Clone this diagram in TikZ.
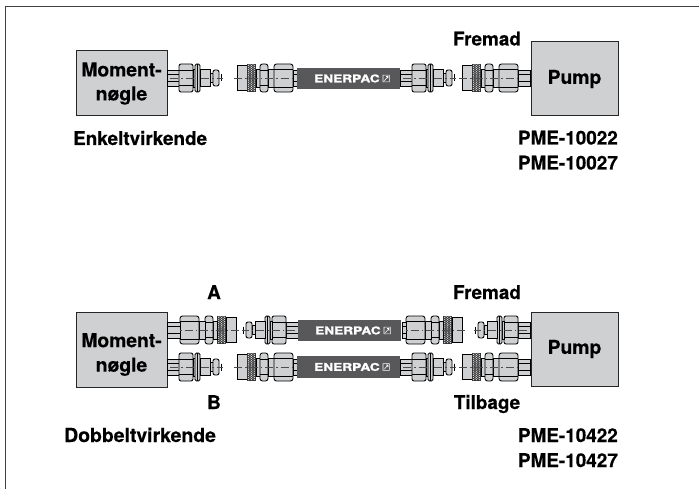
\documentclass[tikz,border=0pt]{standalone}
\usepackage{fontspec}
\setmainfont{TeX Gyre Heros}
\newfontfamily\lblfont[BoldFont={TeX Gyre Heros Bold},BoldFeatures={FakeBold=0.35}]{TeX Gyre Heros}
\definecolor{fitgray}{HTML}{CFD0D2}
\definecolor{boxgray}{HTML}{CFD0D2}
\definecolor{hosegray}{HTML}{58585A}
\newcommand{\fitthreads}[2]{%
  \path[part] (#1,-8) rectangle (#2,8);
  \draw[thin part] (#1,-3.6) -- (#2,-3.6) (#1,3.6) -- (#2,3.6);
}
\tikzset{
  part/.style={draw=black,line width=0.85pt,fill=fitgray},
  thin part/.style={draw=black,line width=0.55pt},
  axis/.style={draw=black!70,line width=0.45pt,dash pattern=on 8pt off 3pt on 1.5pt off 3pt},
  lbl/.style={font=\lblfont\fontsize{18.9}{22}\selectfont\bfseries,inner sep=0pt,anchor=base,text=black},
  lblr/.style={lbl,anchor=base east},
  lbll/.style={lbl,anchor=base west},
  unit/.style={draw=black!85,line width=1pt,fill=boxgray,inner sep=0pt,align=center,
     font=\lblfont\fontsize{19.3}{24.5}\selectfont\bfseries},
  frameline/.style={draw=black!75,line width=1.2pt},
  pics/malefit/.style={code={
    \fitthreads{0}{12}
    \path[part,rounded corners=2pt] (12,-14) rectangle (26,14);
    \draw[thin part] (12,-7.5) -- (26,-7.5) (12,7.5) -- (26,7.5);
    \path[part] (26,-9) rectangle (28,9);
    \path[part,rounded corners=1.5pt] (28,-14) rectangle (33,14);
    \path[part] (33,-8.5) rectangle (43,8.5);
    \path[part] (43,-4.5) rectangle (46,4.5);
    \path[part,rounded corners=2pt] (46,-8) rectangle (52,8);
    \draw[thin part] (54.5,-3.5) -- (54.5,3.5);
    \path[axis] (3,0) -- (56,0);
    \draw[thin part] (30.5,-14) -- (30.5,14);
  }},
  pics/femalefit/.style={code={
    \path[part] (0,-12.5) rectangle (10,12.5);
    \fill[black!80] (10,-14) rectangle (19,14);
    \foreach \ix in {0,1,2}{\foreach \iy in {-6,...,6}{
      \fill[white!85!black] (11.5+2.9*\ix,2.1*\iy) circle (0.7pt);}}
    \foreach \iy in {-6.5,...,5.5}{
      \fill[white!85!black] (13,2.1*\iy) circle (0.55pt);
      \fill[white!85!black] (15.9,2.1*\iy) circle (0.55pt);}
    \path[part] (19,-9) rectangle (23,9);
    \path[part,rounded corners=2.5pt] (23,-14) rectangle (31,14);
    \draw[thin part] (23,-7.5) -- (31,-7.5) (23,7.5) -- (31,7.5);
    \path[part] (31,-9) rectangle (37,9);
    \path[part,rounded corners=2.5pt] (37,-14) rectangle (56,14);
    \draw[thin part] (37,-9) -- (56,-9) (37,9) -- (56,9);
    \fitthreads{56}{#1}
    \path[axis] (-3,0) -- (56,0);
  }},
  pics/hosebody/.style={code={
    \fill[hosegray] (0,-10.8) rectangle (103,10.8);
    \node[text=white,font=\fontsize{10.6}{11}\selectfont\bfseries,inner sep=0pt,anchor=base west] (word) at (17,3.8) {\scalebox{1.29}[1]{\addfontfeature{FakeBold=1.5}ENERPAC}};
    \draw[white,line width=0.55pt] (86,-3.4) rectangle (92.4,3.4) (87.3,2.2) -- (91,-2) (89,-2) -- (91,-2) -- (91,0);
  }},
}
\begin{document}
\begin{tikzpicture}[x=1pt,y=-1pt]
\useasboundingbox (0,0) rectangle (699,489);
\path[frameline] (699,6.5) -- (5.5,6.5) -- (5.5,489);

% ---- single acting row
\node[unit,minimum width=91pt,minimum height=65pt] (mom1) at (121.5,83.5) {Moment-\\[-0.5pt]nøgle};
\node[unit,minimum width=87pt,minimum height=74pt] (pump1) at (574.5,79) {Pump};
\pic (a1) at (167,78) {malefit};
\pic (a2) at (237,78) {femalefit=60};
\pic (a3) at (297,78.5) {hosebody};
\pic (a4) at (400,78) {malefit};
\pic (a5) at (462,78) {femalefit=68};
\node[lbl] (t1) at (487,45.5) {Fremad};
\node[lbll] (t2) at (73,145) {Enkeltvirkende};
\node[lblr] (t3) at (618,144.5) {PME-10022};
\node[lblr] (t4) at (618,169.5) {PME-10027};

% ---- double acting row
\node[unit,minimum width=91pt,minimum height=75pt] (mom2) at (121.5,349.5) {\rule{0pt}{24pt}Moment-\\nøgle};
\node[unit,minimum width=87pt,minimum height=74pt] (pump2) at (574.5,349) {\raisebox{-1pt}{Pump}};
% upper line
\pic[xscale=-1] (b1) at (236,330) {femalefit=69};
\pic[xscale=-1] (b2) at (298,330) {malefit};
\pic (b3) at (298,330.5) {hosebody};
\pic[xscale=-1] (b4) at (462,330) {femalefit=60};
\pic[xscale=-1] (b5) at (530,330) {malefit};
% lower line
\pic (c1) at (167,367) {malefit};
\pic (c2) at (237,367) {femalefit=60};
\pic (c3) at (297,367) {hosebody};
\pic (c4) at (400,367) {malefit};
\pic (c5) at (462,367) {femalefit=68};
\node[lbl] (t5) at (214,299) {A};
\node[lbl] (t6) at (214,409) {B};
\node[lbl] (t7) at (487,299) {Fremad};
\node[lbl] (t8) at (487,409) {Tilbage};
\node[lbll,font=\lblfont\fontsize{19.4}{22}\selectfont\bfseries] (t9) at (64,442) {Dobbeltvirkende};
\node[lblr] (t10) at (618,442) {PME-10422};
\node[lblr] (t11) at (618,467) {PME-10427};
\end{tikzpicture}
\end{document}
